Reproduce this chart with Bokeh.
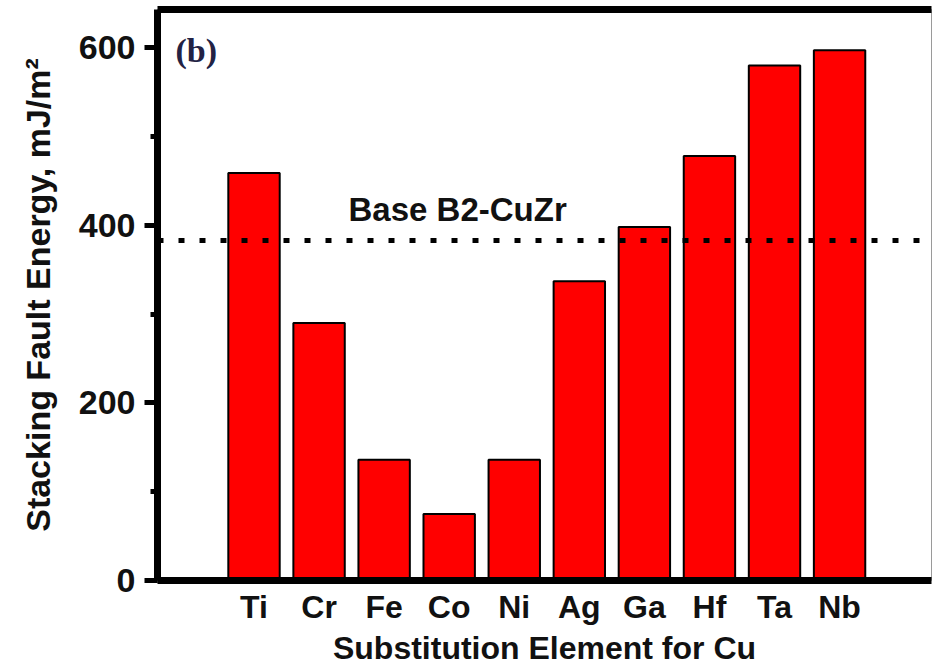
from bokeh.plotting import figure
from bokeh.models import Range1d, FixedTicker, SingleIntervalTicker, LinearAxis, Span, Label
from bokeh.embed import file_html
from bokeh.resources import INLINE

# Data
elements = ["Ti", "Cr", "Fe", "Co", "Ni", "Ag", "Ga", "Hf", "Ta", "Nb"]
sfe = [459, 290, 136, 75, 136, 337, 398, 478, 580, 597]
base_sfe = 383
base_label = "Base B2-CuZr"
panel_label = "(b)"
x_title = "Substitution Element for Cu"
y_title = "Stacking Fault Energy, mJ/m\u00b2"

positions = list(range(1, len(elements) + 1))

FONT = "Liberation Sans"
TXT = "#111111"

p = figure(width=932, height=668, output_backend="svg", toolbar_location=None,
           x_range=Range1d(-0.4833, 11.413), y_range=Range1d(0, 643),
           min_border_left=157, min_border_right=1, min_border_top=9,
           min_border_bottom=87)

p.vbar(x=positions, top=sfe, bottom=0, width=0.79,
       fill_color="#ff0000", line_color="black", line_width=2)

p.xgrid.visible = False
p.ygrid.visible = False
p.outline_line_color = "#9a9a9a"
p.outline_line_width = 1
p.background_fill_color = "white"
p.border_fill_color = "white"

# x axis
xa = p.xaxis[0]
xa.ticker = FixedTicker(ticks=positions)
xa.major_label_overrides = {pos: el for pos, el in zip(positions, elements)}
xa.axis_line_width = 7
xa.axis_line_color = "black"
xa.major_tick_line_color = None
xa.minor_tick_line_color = None
xa.major_label_standoff = 2
xa.major_label_text_font = FONT
xa.major_label_text_font_style = "bold"
xa.major_label_text_font_size = "32px"
xa.major_label_text_color = TXT
xa.axis_label = x_title
xa.axis_label_text_font = FONT
xa.axis_label_text_font_style = "bold"
xa.axis_label_text_font_size = "32px"
xa.axis_label_text_color = TXT
xa.axis_label_standoff = 2

# y axis
ya = p.yaxis[0]
ya.ticker = SingleIntervalTicker(interval=200, num_minor_ticks=2)
ya.axis_line_width = 7
ya.axis_line_color = "black"
ya.major_tick_out = 13
ya.major_tick_in = 0
ya.major_tick_line_width = 5
ya.minor_tick_out = 7
ya.minor_tick_in = 0
ya.minor_tick_line_width = 5
ya.major_label_standoff = 9
ya.major_label_text_font = FONT
ya.major_label_text_font_style = "bold"
ya.major_label_text_font_size = "34px"
ya.major_label_text_color = TXT
ya.axis_label = y_title
ya.axis_label_text_font = FONT
ya.axis_label_text_font_style = "bold"
ya.axis_label_text_font_size = "34px"
ya.axis_label_text_color = TXT
ya.axis_label_standoff = 19

# top frame line
top = LinearAxis(ticker=FixedTicker(ticks=[]), axis_line_width=7, axis_line_color="black",
                 major_tick_line_color=None, minor_tick_line_color=None,
                 major_label_text_font_size="0px", major_label_standoff=0)
p.add_layout(top, "above")

# baseline reference
p.add_layout(Span(location=base_sfe, dimension="width", line_color="black",
                  line_width=5, line_dash="6 15"))
p.add_layout(Label(x=2.4525, y=418, text=base_label, text_font=FONT,
                   text_font_style="bold", text_font_size="33px",
                   text_color=TXT, text_baseline="middle"))
p.add_layout(Label(x=-0.2066, y=596.6, text=panel_label, text_font="Liberation Serif",
                   text_font_style="bold", text_font_size="34px",
                   text_color="#222244", text_baseline="middle"))

open("out.html", "w").write(file_html(p, INLINE))
